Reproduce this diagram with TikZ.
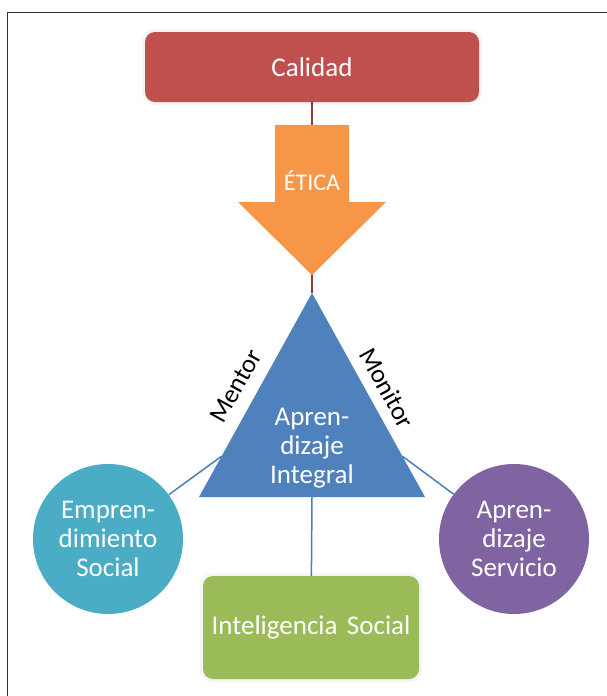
\documentclass[tikz,border=0pt]{standalone}
\usepackage{fontspec}
\setmainfont{Carlito}
\usetikzlibrary{calc}
\definecolor{calcol}{HTML}{C0504D}
\definecolor{etic}{HTML}{F79646}
\definecolor{tric}{HTML}{4F81BD}
\definecolor{empc}{HTML}{4BACC6}
\definecolor{serc}{HTML}{8064A2}
\definecolor{intc}{HTML}{9BBB59}
\definecolor{redln}{HTML}{8E3B39}
\definecolor{blueln}{HTML}{4A7EBB}
\begin{document}
\begin{tikzpicture}[x=1pt,y=-1pt,
  txt/.style={text=white, font=\fontsize{27}{29}\selectfont, align=center, inner sep=0pt},
  boxsh/.style={rectangle, rounded corners=10pt, inner sep=0pt, preaction={draw=black!4, line width=6pt}},
  circ/.style={circle, minimum size=150pt, inner sep=0pt},
  lbl/.style={font=\fontsize{26}{28}\selectfont, text=black, inner sep=0pt},
  blueline/.style={draw=blueln, line width=1.5pt},
  redline/.style={draw=redln, line width=2pt},
  frameline/.style={draw=black!80, line width=1.8pt}
]
\useasboundingbox (0,0) rectangle (606,696);
\fill[white] (0,0) rectangle (606,696);
% frame
\draw[frameline] (7.5,700) -- (7.5,12.5) -- (610,12.5);

% top box
\node[boxsh, fill=calcol, minimum width=334pt, minimum height=70pt, txt] (calidad) at (312,67) {Calidad};

% triangle coordinates
\coordinate (apex) at (312,293);
\coordinate (bl) at (199,497);
\coordinate (br) at (425,497);
\coordinate (basemid) at (312,497);
\coordinate (tl) at ($(apex)!0.8!(bl)$);
\coordinate (tr) at ($(apex)!0.8!(br)$);

% red connector behind arrow
\draw[redline] (calidad) -- (apex);

% arrow
\fill[etic] (275,125) -- (349,125) -- (349,202) -- (386,202) -- (312,275) -- (238,202) -- (275,202) -- cycle;
\node[txt, font=\fontsize{24}{26}\selectfont] (etica) at (312,181) {ÉTICA};

% circles and bottom box
\node[circ, fill=empc, txt] (emp) at (108,539) {Empren-\\dimiento\\Social};
\node[circ, fill=serc, txt] (apser) at (514,539) {Apren-\\dizaje\\Servicio};
\node[boxsh, fill=intc, minimum width=216pt, minimum height=103pt, txt] (intel) at (311,627.5) {Inteligencia\hspace{0.35em}Social};

% connectors
\draw[blueline] (tl) -- (emp);
\draw[blueline] (tr) -- (apser);
\draw[blueline] (basemid) -- (intel);

% triangle
\fill[tric] (apex) -- (br) -- (bl) -- cycle;
\node[txt] (integral) at (312,448.5) {Apren-\\dizaje\\Integral};

% side labels
\node[lbl, rotate=61] (mentor) at (236,386) {Mentor};
\node[lbl, rotate=-61] (monitor) at (387,388) {Monitor};
\end{tikzpicture}
\end{document}
